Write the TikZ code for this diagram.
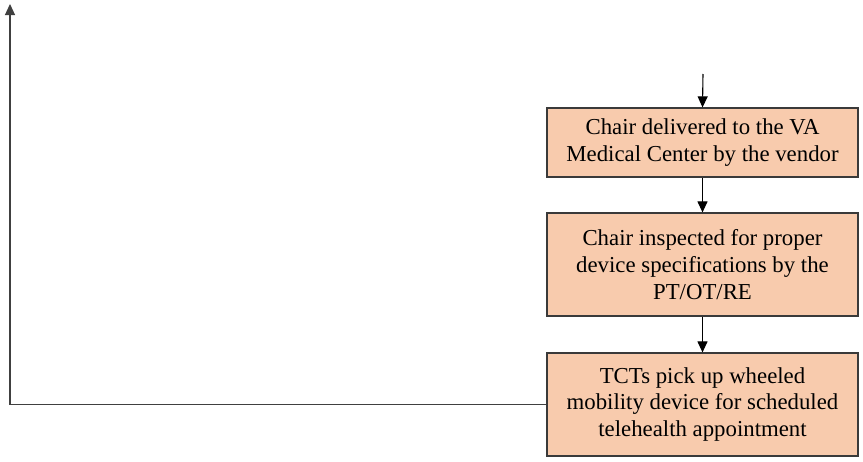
\documentclass[tikz,border=0pt]{standalone}
\usepackage{fontspec}
\setmainfont{Liberation Serif}
\usetikzlibrary{arrows.meta}
\definecolor{boxfill}{HTML}{F8CBAD}
\definecolor{boxline}{HTML}{3A3A3A}
\begin{document}
\begin{tikzpicture}[x=1pt,y=-1pt,
  stepbox/.style={draw=boxline,line width=1.2pt,fill=boxfill,minimum width=311pt,
    align=center,inner sep=0pt,font=\fontsize{22.8}{26.7}\selectfont},
  conn/.style={line width=1.1pt,-{Triangle[length=11pt,width=10pt]}}]
\useasboundingbox (0,0) rectangle (863,461);
\node[stepbox,minimum height=69pt] (b1) at (702.5,142.5) {Chair delivered to the VA\\Medical Center by the vendor};
\node[stepbox,minimum height=103pt] (b2) at (702.5,264.5) {Chair inspected for proper\\device specifications by the\\PT/OT/RE};
\node[stepbox,minimum height=103pt] (b3) at (702.5,404.5) {TCTs pick up wheeled\\mobility device for scheduled\\telehealth appointment};
\coordinate (top) at (703,74);
\coordinate (corner) at (10,404.5);
\coordinate (end) at (10,4);
\draw[conn] (top) -- (b1.north);
\draw[conn] (b1.south) -- (b2.north);
\draw[conn] (b2.south) -- (b3.north);
\draw[conn,draw=black!75] (b3.west) -- (corner) -- (end);
\end{tikzpicture}
\end{document}
